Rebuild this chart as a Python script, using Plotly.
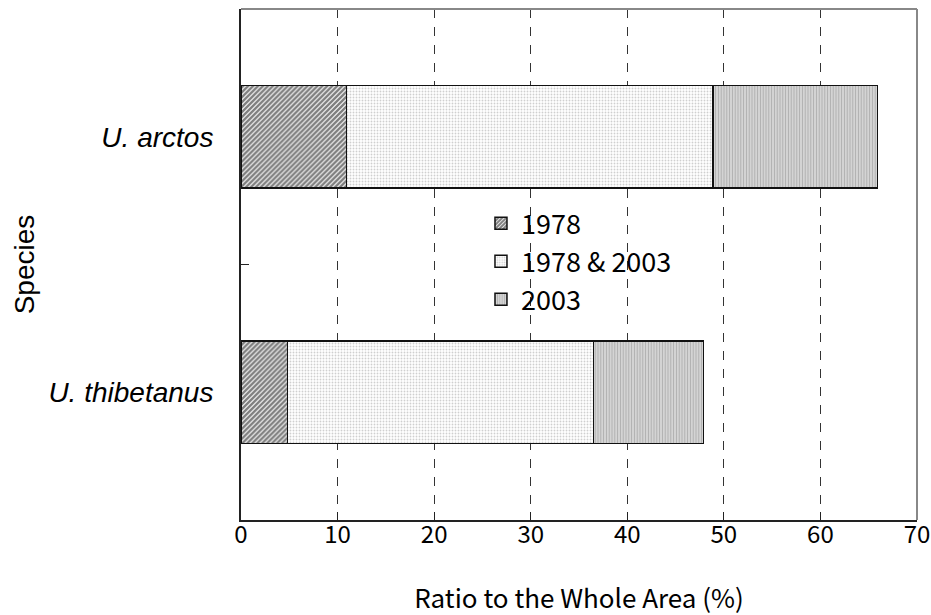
import plotly.graph_objects as go

species = ["U. thibetanus", "U. arctos"]
only_1978 = [4.8, 10.9]
both_years = [31.7, 38.0]
only_2003 = [11.4, 17.0]

series_names = ["1978", "1978 & 2003", "2003"]
series_values = [only_1978, both_years, only_2003]
patterns = [
    dict(shape="/", fgcolor="#000000", bgcolor="#ffffff", size=3.5, solidity=0.7),
    dict(shape=".", fgcolor="#a0a0a0", bgcolor="#ffffff", size=3, solidity=0.3),
    dict(shape="|", fgcolor="#606060", bgcolor="#ffffff", size=2.8, solidity=0.7),
]

fig = go.Figure()
for name, vals, pat in zip(series_names, series_values, patterns):
    fig.add_trace(go.Bar(
        y=species, x=vals, name=name, orientation="h", width=0.4,
        legendgroup=name,
        marker=dict(color="#ffffff", pattern=pat, line=dict(color="#111111", width=1.5)),
    ))

tick_font = dict(family="Noto Sans CJK JP, sans-serif", size=24, color="#000")
fig.update_layout(
    barmode="stack",
    width=931, height=615,
    margin=dict(l=241, r=14, t=9, b=95, autoexpand=False),
    plot_bgcolor="#ffffff", paper_bgcolor="#ffffff",
    showlegend=True,
    legend=dict(
        x=0.355, y=0.628, xanchor="left", yanchor="top",
        bgcolor="rgba(0,0,0,0)",
        font=dict(family="Noto Sans CJK JP, sans-serif", size=27, color="#000"),
        traceorder="normal", tracegroupgap=9,
    ),
    xaxis=dict(
        range=[0, 70], dtick=10, tick0=0,
        showgrid=True, gridcolor="#333333", gridwidth=1, griddash="dash",
        showline=True, linecolor="#222222", linewidth=2,
        ticks="inside", ticklen=8, tickcolor="#222222",
        tickfont=tick_font, zeroline=False, ticklabelstandoff=-8,
        title=dict(text="Ratio to the Whole Area (%)",
                   font=dict(family="Noto Sans CJK JP, sans-serif", size=26, color="#000"),
                   standoff=50),
    ),
    yaxis=dict(
        categoryorder="array", categoryarray=species,
        range=[-0.5, 1.5],
        showline=True, linecolor="#222222", linewidth=2,
        ticks="inside", ticklen=8, tickcolor="#222222", tickson="boundaries",
        showgrid=False, zeroline=False,
        tickfont=dict(family="Liberation Sans, Arial, sans-serif", size=28, color="#000", style="italic"),
        ticklabelstandoff=20,
        title=dict(text="Species",
                   font=dict(family="Liberation Sans, Arial, sans-serif", size=28, color="#000"),
                   standoff=6),
    ),
    shapes=[
        dict(type="line", xref="paper", yref="paper", x0=0, x1=1, y0=1, y1=1,
             line=dict(color="#888888", width=2)),
        dict(type="line", xref="paper", yref="paper", x0=1, x1=1, y0=0, y1=1,
             line=dict(color="#888888", width=2)),
    ],
)

fig.write_html(
    "out.html",
    config={"displayModeBar": False},
    post_script="document.body.style.margin='0';document.body.style.overflow='hidden';",
)
